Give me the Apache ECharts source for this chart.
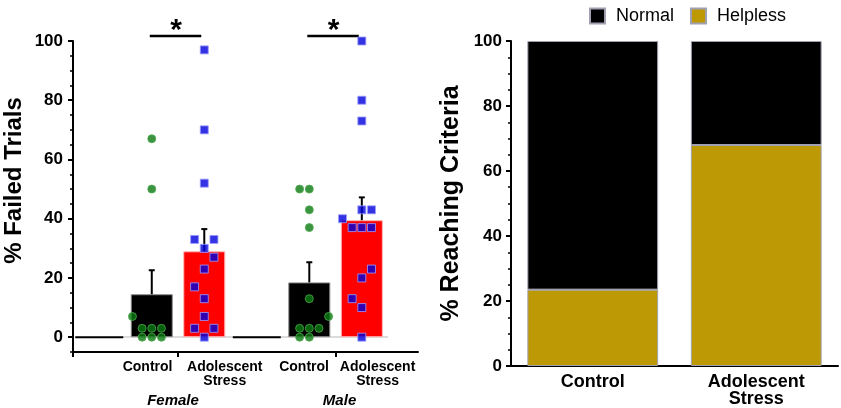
<!DOCTYPE html>
<html>
<head>
<meta charset="utf-8">
<script src="https://cdn.jsdelivr.net/npm/echarts@6/dist/echarts.min.js"></script>
<style>
  html, body { margin: 0; padding: 0; background: #fff; }
  #main { width: 841px; height: 408px; }
</style>
</head>
<body>
<div id="main"></div>
<script>
var FONT = '"Liberation Sans", Arial, Helvetica, sans-serif';

// ---- left panel data: % failed trials ----
var groupNames = ['Control', 'Adolescent\nStress', 'Control', 'Adolescent\nStress'];
var sexNames = ['Female', 'Male'];
var groupPos = [2, 3, 5, 6];          // slot on the x scale
var emptyPos = [1, 4];                // empty columns drawn at 0
var barMeans = [14.5, 29, 18.5, 39.5];
var barSem = [22.6, 36.5, 25.3, 47.2]; // top of error bar
var femaleCtrl = [67, 50, 7, 3, 3, 3, 0, 0, 0];
var femaleCtrlSlot = [0, 0, -2, -1, 0, 1, -1, 0, 1];
var femaleStress = [97, 70, 52, 33, 33, 30, 27, 23, 17, 13, 7, 3, 3, 0];
var femaleStressSlot = [0, 0, 0, -1, 1, 0, 1, 0, -1, 0, 0, -1, 1, 0];
var maleCtrl = [50, 50, 43, 37, 13, 7, 3, 3, 3, 0, 0];
var maleCtrlSlot = [-1, 0, 0, 0, 0, 2, -1, 0, 1, -1, 0];
var maleStress = [100, 80, 73, 43, 43, 40, 37, 37, 37, 23, 20, 13, 10, 0];
var maleStressSlot = [0, 0, 0, 0, 1, -2, -1, 0, 1, 1, 0, -1, 0, 0];
var sigPairs = [[2, 3], [5, 6]];

// ---- right panel data: % reaching criteria ----
var rightCats = ['Control', 'Adolescent\nStress'];
var helpless = [23.5, 68];
var normal = [76.5, 32];

var jitter = 0.184;
function pts(vals, slots, pos) {
  return vals.map(function (v, i) { return [pos + slots[i] * jitter, v]; });
}

var labelPos = [1.92, 3.39, 4.9, 6.3];
var sexPos = [2.405, 5.576];

function nearestName(v, list, names) {
  var best = 0;
  for (var i = 1; i < list.length; i++) {
    if (Math.abs(list[i] - v) < Math.abs(list[best] - v)) best = i;
  }
  return names[best];
}

var myChart = echarts.init(document.getElementById('main'));

var greenStyle = { color: '#0a7a10', borderColor: '#4fa84f', borderWidth: 1 };
var blueStyle = { color: '#0000dd', borderColor: '#9c9cff', borderWidth: 1 };

var option = {
  backgroundColor: '#fff',
  animation: false,
  textStyle: { fontFamily: FONT },
  legend: {
    data: ['Normal', 'Helpless'],
    left: 584,
    top: 2,
    icon: 'rect',
    itemWidth: 15,
    itemHeight: 15,
    itemGap: 16,
    selectedMode: false,
    textStyle: { fontSize: 18, color: '#000', fontFamily: FONT, padding: [0, 0, 0, 6] }
  },
  grid: [
    { left: 73, right: 423, top: 41, bottom: 56, outerBoundsMode: 'none' },
    { left: 511, right: 3, top: 41, bottom: 42, outerBoundsMode: 'none' }
  ],
  xAxis: [
    {
      gridIndex: 0, type: 'value', min: 0.5, max: 7.07, position: 'bottom',
      splitLine: { show: false },
      axisLine: { onZero: false, lineStyle: { color: '#000', width: 2 } },
      axisTick: { customValues: [0.5, 2.5, 5.5], length: 5, lineStyle: { color: '#000', width: 2 } },
      axisLabel: {
        customValues: labelPos,
        formatter: function (v) { return nearestName(v, labelPos, groupNames); },
        color: '#000', fontSize: 14, fontWeight: 'bold', lineHeight: 14, margin: 8, fontFamily: FONT
      }
    },
    {
      gridIndex: 0, type: 'value', min: 0.5, max: 7.07, position: 'bottom',
      splitLine: { show: false },
      axisLine: { show: false, onZero: false },
      axisTick: { show: false },
      axisLabel: {
        customValues: sexPos,
        formatter: function (v) { return nearestName(v, sexPos, sexNames); },
        color: '#000', fontSize: 15, fontWeight: 'bold', fontStyle: 'italic', margin: 41, fontFamily: FONT
      }
    },
    {
      gridIndex: 1, type: 'category', data: rightCats,
      axisLine: { lineStyle: { color: '#000', width: 2 } },
      axisTick: { length: 5, lineStyle: { color: '#000', width: 2 } },
      axisLabel: { color: '#000', fontSize: 18, fontWeight: 'bold', lineHeight: 17, margin: 8, fontFamily: FONT }
    }
  ],
  yAxis: [
    {
      gridIndex: 0, type: 'value', min: -5, max: 100, interval: 5, position: 'left',
      splitLine: { show: false },
      axisLine: { onZero: false, lineStyle: { color: '#000', width: 2 } },
      axisTick: { length: 3, lineStyle: { color: '#000', width: 1.5 } },
      axisLabel: { show: false },
      name: '% Failed Trials', nameLocation: 'middle', nameGap: 47,
      nameTextStyle: { color: '#000', fontSize: 24, fontWeight: 'bold', fontFamily: FONT, padding: [0, 0, 0, 32] }
    },
    {
      gridIndex: 0, type: 'value', min: -5, max: 100, position: 'left',
      splitLine: { show: false },
      axisLine: { show: false, onZero: false },
      axisTick: { customValues: [0, 20, 40, 60, 80, 100], length: 5, lineStyle: { color: '#000', width: 2 } },
      axisLabel: { customValues: [0, 20, 40, 60, 80, 100], color: '#000', fontSize: 17, fontWeight: 'bold', margin: 10, fontFamily: FONT }
    },
    {
      gridIndex: 1, type: 'value', min: 0, max: 100, interval: 20,
      splitLine: { show: false },
      axisLine: { show: true, lineStyle: { color: '#000', width: 2 } },
      axisTick: { show: true, length: 5, lineStyle: { color: '#000', width: 2 } },
      minorTick: { show: true, splitNumber: 4, length: 3, lineStyle: { color: '#000', width: 1.5 } },
      axisLabel: { color: '#000', fontSize: 17, fontWeight: 'bold', margin: 9, fontFamily: FONT },
      name: '% Reaching Criteria', nameLocation: 'middle', nameGap: 47,
      nameTextStyle: { color: '#000', fontSize: 25, fontWeight: 'bold', fontFamily: FONT }
    }
  ],
  series: [
    {
      type: 'bar', xAxisIndex: 0, yAxisIndex: 0, barWidth: 42, z: 2,
      data: barMeans.map(function (m, i) {
        var red = i % 2 === 1;
        return {
          value: [groupPos[i], m],
          itemStyle: { color: red ? '#ff0000' : '#000', borderColor: red ? '#ffb4b4' : '#8a8a8a', borderWidth: 1 }
        };
      }),
      markLine: {
        silent: true, symbol: 'none', label: { show: false }, z: 1,
        lineStyle: { color: '#dcdcdc', width: 2, type: 'solid' },
        data: [[{ coord: [1.45, 0] }, { coord: [6.5, 0] }]]
      }
    },
    {
      type: 'custom', xAxisIndex: 0, yAxisIndex: 0, z: 3,
      data: groupPos.map(function (p, i) { return [p, barMeans[i], barSem[i]]; }),
      renderItem: function (params, api) {
        var a = api.coord([api.value(0), api.value(1)]);
        var b = api.coord([api.value(0), api.value(2)]);
        return {
          type: 'group',
          children: [
            { type: 'line', shape: { x1: a[0], y1: a[1], x2: b[0], y2: b[1] }, style: { stroke: '#000', lineWidth: 2 } },
            { type: 'line', shape: { x1: b[0] - 3, y1: b[1], x2: b[0] + 3, y2: b[1] }, style: { stroke: '#000', lineWidth: 2 } }
          ]
        };
      }
    },
    {
      type: 'custom', xAxisIndex: 0, yAxisIndex: 0, z: 3,
      data: emptyPos.map(function (p) { return [p, 0]; }),
      renderItem: function (params, api) {
        var c = api.coord([api.value(0), api.value(1)]);
        return { type: 'line', shape: { x1: c[0] - 24, y1: c[1], x2: c[0] + 24, y2: c[1] }, style: { stroke: '#000', lineWidth: 2 } };
      }
    },
    {
      type: 'custom', xAxisIndex: 0, yAxisIndex: 0, z: 3,
      data: sigPairs.map(function (p) { return [p[0], p[1], 101.7]; }),
      renderItem: function (params, api) {
        var a = api.coord([api.value(0), api.value(2)]);
        var b = api.coord([api.value(1), api.value(2)]);
        return {
          type: 'group',
          children: [
            { type: 'line', shape: { x1: a[0] - 2, y1: a[1], x2: b[0] - 3, y2: b[1] }, style: { stroke: '#000', lineWidth: 2.5 } },
            { type: 'text', style: { text: '*', x: (a[0] + b[0]) / 2 - 2, y: a[1] + 10, align: 'center', verticalAlign: 'bottom', font: 'bold 30px ' + FONT, fill: '#000' } }
          ]
        };
      }
    },
    { type: 'scatter', xAxisIndex: 0, yAxisIndex: 0, z: 4, symbol: 'circle', symbolSize: 8, itemStyle: greenStyle, data: pts(femaleCtrl, femaleCtrlSlot, groupPos[0]) },
    { type: 'scatter', xAxisIndex: 0, yAxisIndex: 0, z: 4, symbol: 'rect', symbolSize: 8, itemStyle: blueStyle, data: pts(femaleStress, femaleStressSlot, groupPos[1]) },
    { type: 'scatter', xAxisIndex: 0, yAxisIndex: 0, z: 4, symbol: 'circle', symbolSize: 8, itemStyle: greenStyle, data: pts(maleCtrl, maleCtrlSlot, groupPos[2]) },
    { type: 'scatter', xAxisIndex: 0, yAxisIndex: 0, z: 4, symbol: 'rect', symbolSize: 8, itemStyle: blueStyle, data: pts(maleStress, maleStressSlot, groupPos[3]) },
    {
      name: 'Helpless', type: 'bar', xAxisIndex: 2, yAxisIndex: 2, stack: 'crit', barWidth: '80%',
      itemStyle: { color: '#bd9905', borderColor: '#a0a0b0', borderWidth: 1 },
      data: helpless
    },
    {
      name: 'Normal', type: 'bar', xAxisIndex: 2, yAxisIndex: 2, stack: 'crit', barWidth: '80%',
      itemStyle: { color: '#000', borderColor: '#a0a0b0', borderWidth: 1 },
      data: normal
    }
  ]
};

myChart.setOption(option);
</script>
</body>
</html>
